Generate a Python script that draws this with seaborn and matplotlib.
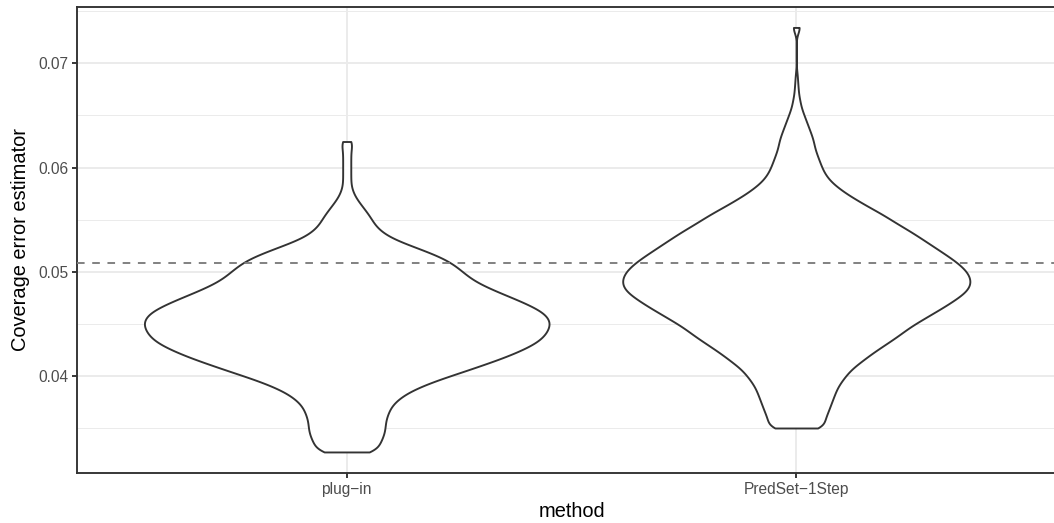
import numpy as np
import pandas as pd
import matplotlib
matplotlib.use("Agg")
import matplotlib.pyplot as plt
from matplotlib.ticker import FixedLocator
import seaborn as sns

# ---------------- data ----------------
methods = ["plug\u2212in", "PredSet\u22121Step"]

plugin_values = [0.0327, 0.0332, 0.0337, 0.0342, 0.0347, 0.0352, 0.0357, 0.0362, 0.0367, 0.0372,
                 0.0377, 0.0382, 0.0387, 0.0392, 0.0397, 0.0402, 0.0407, 0.0412, 0.0417, 0.0422,
                 0.0427, 0.0432, 0.0437, 0.0442, 0.0447, 0.0452, 0.0457, 0.0462, 0.0467, 0.0472,
                 0.0477, 0.0482, 0.0487, 0.0492, 0.0497, 0.0502, 0.0507, 0.0512, 0.0517, 0.0522,
                 0.0527, 0.0532, 0.0537, 0.0542, 0.0547, 0.0552, 0.0557, 0.0562, 0.0567, 0.0572,
                 0.0577, 0.0582, 0.0587, 0.0592, 0.0597, 0.0602, 0.0607, 0.0612, 0.0617, 0.0622,
                 0.0625]
plugin_counts = [17, 15, 17, 18, 19, 19, 19, 20, 21, 22,
                 25, 28, 33, 39, 46, 54, 62, 69, 77, 83,
                 89, 94, 97, 99, 100, 101, 99, 97, 91, 86,
                 79, 73, 67, 62, 59, 56, 53, 49, 43, 36,
                 29, 22, 18, 15, 13, 12, 10, 8, 6, 4,
                 3, 2, 2, 2, 2, 2, 2, 2, 2, 2,
                 3]

predset_values = [0.0350, 0.0355, 0.0360, 0.0365, 0.0370, 0.0375, 0.0380, 0.0385, 0.0390, 0.0395,
                  0.0400, 0.0405, 0.0410, 0.0415, 0.0420, 0.0425, 0.0430, 0.0435, 0.0440, 0.0445,
                  0.0450, 0.0455, 0.0460, 0.0465, 0.0470, 0.0475, 0.0480, 0.0485, 0.0490, 0.0495,
                  0.0500, 0.0505, 0.0510, 0.0515, 0.0520, 0.0525, 0.0530, 0.0535, 0.0540, 0.0545,
                  0.0550, 0.0555, 0.0560, 0.0565, 0.0570, 0.0575, 0.0580, 0.0585, 0.0590, 0.0595,
                  0.0600, 0.0605, 0.0610, 0.0615, 0.0620, 0.0625, 0.0630, 0.0635, 0.0640, 0.0645,
                  0.0650, 0.0655, 0.0660, 0.0665, 0.0670, 0.0675, 0.0680, 0.0688, 0.07345]
predset_counts = [18, 13, 15, 16, 17, 18, 19, 20, 21, 23,
                  25, 27, 30, 34, 37, 41, 45, 49, 53, 56,
                  60, 65, 69, 74, 78, 82, 86, 88, 89, 88,
                  87, 84, 81, 77, 73, 69, 65, 61, 57, 52,
                  48, 44, 39, 34, 30, 25, 22, 18, 16, 14,
                  13, 12, 11, 10, 9, 9, 8, 7, 6, 5,
                  4, 3, 2, 2, 1, 1, 1, 1, 4]

reference_level = 0.05081
y_ticks = [0.04, 0.05, 0.06, 0.07]
y_tick_labels = ["0.04", "0.05", "0.06", "0.07"]
y_minor_ticks = [0.035, 0.045, 0.055, 0.065, 0.075]

df = pd.DataFrame({
    "method": np.repeat(methods, [sum(plugin_counts), sum(predset_counts)]),
    "value": np.concatenate([np.repeat(plugin_values, plugin_counts),
                             np.repeat(predset_values, predset_counts)]),
})

# ---------------- style ----------------
sns.set_style("white")
plt.rcParams["font.family"] = ["Liberation Sans", "DejaVu Sans"]

DARK = "#333333"
GRID = "#EBEBEB"
LW = 1.37

def bandwidth(kde):
    # fixed absolute kernel bandwidth of 0.00055 for each violin
    return 0.00055 / np.std(kde.dataset, ddof=1)

fig = plt.figure(figsize=(10.54, 5.23), dpi=100)
ax = fig.add_axes([77 / 1054, 1 - 473 / 523, (1066 - 77) / 1054, (473 - 6.7) / 523])

sns.violinplot(data=df, x="method", y="value", order=methods, ax=ax,
               cut=0, inner=None, density_norm="area", width=0.9, gridsize=600,
               bw_method=bandwidth, color="white", saturation=1,
               linecolor=DARK, linewidth=LW)

ax.axhline(reference_level, color="#7F7F7F", lw=LW, linestyle=(0, (4, 4)), zorder=5)

ax.set_xlim(-0.6, 1.6)
ax.set_ylim(0.03068, 0.07544)
ax.set_yticks(y_ticks)
ax.set_yticklabels(y_tick_labels)
ax.yaxis.set_minor_locator(FixedLocator(y_minor_ticks))

ax.set_axisbelow(True)
ax.grid(which="major", axis="both", color=GRID, lw=LW)
ax.grid(which="minor", axis="y", color=GRID, lw=LW * 0.5)

for s in ax.spines.values():
    s.set_visible(True)
    s.set_color(DARK)
    s.set_linewidth(LW)

ax.tick_params(which="major", length=3.5, width=LW, color=DARK,
               labelcolor="#4D4D4D", labelsize=11.2, pad=2.8,
               bottom=True, left=True)
ax.tick_params(which="minor", length=0)

ax.set_xlabel("method", fontsize=14.4, color="black", labelpad=3.5)
ax.set_ylabel("Coverage error estimator", fontsize=14.4, color="black", labelpad=6)

fig.savefig("out.png", dpi=100)
